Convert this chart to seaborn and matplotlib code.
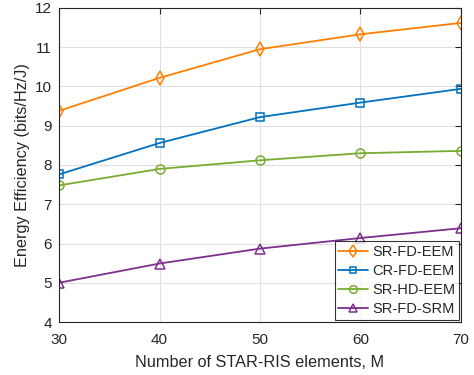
import matplotlib
matplotlib.use("Agg")
import matplotlib.pyplot as plt
import seaborn as sns
import pandas as pd

M = [30, 40, 50, 60, 70]
sr_fd_eem = [9.38, 10.22, 10.95, 11.33, 11.62]
cr_fd_eem = [7.76, 8.56, 9.22, 9.59, 9.94]
sr_hd_eem = [7.48, 7.90, 8.12, 8.30, 8.36]
sr_fd_srm = [5.00, 5.49, 5.87, 6.14, 6.39]
labels = ["SR-FD-EEM", "CR-FD-EEM", "SR-HD-EEM", "SR-FD-SRM"]
colors = ["#FF8000", "#0072BD", "#77AC30", "#7E2F8E"]
markers = ["d", "s", "o", "^"]
msizes = [7, 5.5, 6.5, 6.5]

sns.set_theme(style="whitegrid")
plt.rcParams['font.family'] = ['Liberation Sans', 'DejaVu Sans']

df = pd.DataFrame({"M": M * 4,
                   "EE": sr_fd_eem + cr_fd_eem + sr_hd_eem + sr_fd_srm,
                   "scheme": sum([[l] * 5 for l in labels], [])})

fig = plt.figure(figsize=(4.74, 3.75), dpi=100)
ax = fig.add_axes([0.1245, 0.1413, 0.848, 0.8374])
for lab, c, mk, ms in zip(labels, colors, markers, msizes):
    d = df[df.scheme == lab]
    sns.lineplot(data=d, x="M", y="EE", ax=ax, color=c, marker=mk, markersize=ms,
                 markerfacecolor="none", markeredgecolor=c, markeredgewidth=1.1,
                 linewidth=1.3, label=lab)

ax.set_xlim(30, 70)
ax.set_ylim(4, 12)
ax.set_xticks([30, 40, 50, 60, 70])
ax.set_yticks(range(4, 13))
ax.set_xlabel("Number of STAR-RIS elements, M", fontsize=11.7, color="#262626", labelpad=6)
ax.set_ylabel("Energy Efficiency (bits/Hz/J)", fontsize=11.7, color="#262626", labelpad=4)
ax.tick_params(axis="both", labelsize=11, colors="#262626", direction="in", length=4,
               top=True, right=True, width=0.8)
ax.tick_params(axis="x", pad=8)
ax.tick_params(axis="y", pad=5)
for s in ax.spines.values():
    s.set_color("#262626")
    s.set_linewidth(0.8)
ax.grid(True, color="#e0e0e0", linewidth=0.8)
ax.set_facecolor("white")
leg = ax.legend(loc="lower right", fontsize=10.5, frameon=True, fancybox=False,
                edgecolor="black", borderaxespad=0.15, handlelength=2.0,
                borderpad=0.25, labelspacing=0.35, handletextpad=0.3,
                markerscale=0.85)
leg.get_frame().set_linewidth(0.8)
fig.savefig("out.png", dpi=100)
